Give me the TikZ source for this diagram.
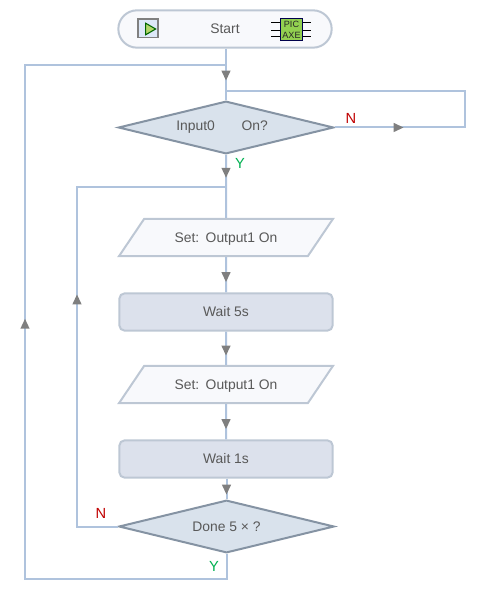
\documentclass[tikz,border=0pt]{standalone}
\usepackage{fontspec}
\setmainfont{Liberation Sans}
\usepackage{xcolor}
\usetikzlibrary{shapes.geometric, arrows.meta, decorations.markings}

\definecolor{linkblue}{HTML}{AFC3DD}
\definecolor{tipgray}{HTML}{7F7F7F}
\definecolor{textgray}{HTML}{595959}
\definecolor{darkedge}{HTML}{8593A3}
\definecolor{softedge}{HTML}{BDC7D4}
\definecolor{darkfill}{HTML}{D9E2EC}
\definecolor{softfill}{HTML}{F8F9FC}
\definecolor{waitfill}{HTML}{DCE1EC}
\definecolor{chipgreen}{HTML}{92D050}
\definecolor{playfill}{HTML}{DDE8F8}
\definecolor{playgreen}{HTML}{B4D66A}
\definecolor{nored}{HTML}{C00000}
\definecolor{yesgreen}{HTML}{00B050}

\tikzset{
  box/.style={draw=softedge, line width=1.5pt, text=textgray, font=\fontsize{10.4}{12}\selectfont, inner sep=0pt},
  startbox/.style={box, rectangle, rounded corners=14pt, fill=softfill, minimum width=160pt, minimum height=28pt},
  decision/.style={box, diamond, aspect=4.05, draw=darkedge, fill=darkfill, minimum width=161.5pt, minimum height=39.5pt},
  outputbox/.style={box, trapezium, trapezium left angle=56, trapezium right angle=124, trapezium stretches body=true, fill=softfill, minimum width=160.5pt, text height=18pt, text depth=10pt},
  waitbox/.style={box, rectangle, rounded corners=4pt, fill=waitfill, minimum width=160pt, minimum height=28pt},
  link/.style={draw=linkblue, line width=1.5pt},
  flowtip/.style={postaction={decorate}, decoration={markings, mark=at position #1 with {\arrow[tipgray]{Triangle[width=6.5pt, length=7.5pt]}}}},
  no/.style={text=nored, font=\fontsize{11}{12}\selectfont},
  yes/.style={text=yesgreen, font=\fontsize{11}{12}\selectfont}
}

\begin{document}
\begin{tikzpicture}[x=0.75pt, y=-0.75pt]
\useasboundingbox (0,0) rectangle (477,591);

% Flow boxes
\node[startbox] (start) at (225,29) {Start};
\node[decision] (input) at (226,127.5) {Input0\hspace{20pt}On?\hspace*{6pt}};
\node[outputbox] (setA) at (226,237.5) {Set:\hspace{1pt} Output1 On};
\node[waitbox] (waitA) at (226,312) {Wait 5s};
\node[outputbox] (setB) at (226,384.5) {Set:\hspace{1pt} Output1 On};
\node[waitbox] (waitB) at (226,459) {Wait 1s};
\node[decision] (done) at (226.5,526.5) {Done 5 × ?};

% Start icons
\node[draw=gray, line width=1pt, fill=playfill, minimum width=15pt, minimum height=14pt, inner sep=0pt] (play) at (148,28.5) {};
\node[draw=green!40!black, line width=0.8pt, fill=playgreen, isosceles triangle, isosceles triangle apex angle=60, minimum height=7.5pt, inner sep=0pt] (playtip) at (149,29) {};
\foreach \y in {22,30,36} {
  \draw[black, line width=0.5pt] (271,\y) -- (311,\y);
}
\node[draw=black!70!blue, line width=0.7pt, fill=chipgreen, minimum width=17pt, minimum height=17pt, inner sep=0pt, align=center, text=black!85, font=\fontsize{6.8}{8.4}\selectfont] (chip) at (291.5,29.5) {PIC\\AXE};

% Named corners of the return loops
\coordinate (outerjoin) at (226,65);
\coordinate (outertop) at (25,65);
\coordinate (outerlow) at (25,579);
\coordinate (innerjoin) at (226,187);
\coordinate (innertop) at (77,187);
\coordinate (innerlow) at (77,526.5);
\coordinate (waitjoin) at (226,91);
\coordinate (waittop) at (465,91);
\coordinate (waitlow) at (465,127.5);

% Main line
\draw[link, flowtip=24pt] (start.south -| input.north) -- (input.north);
\draw[link, flowtip=17.25pt] (input.south) -- (setA.north);
\draw[link, flowtip=18.75pt] (setA.south) -- (waitA.north);
\draw[link, flowtip=18pt] (waitA.south) -- (setB.north);
\draw[link, flowtip=18.75pt] (setB.south) -- (waitB.north);
\draw[link, flowtip=12pt] (waitB.south -| done.north) -- (done.north);

% Return loops
\draw[link, flowtip=51.75pt] (input.east) -- (waitlow) -- (waittop) -- (waitjoin);
\draw[link, flowtip=204.75pt] (done.west) -- (innerlow) -- (innertop) -- (innerjoin);
\draw[link, flowtip=365.25pt] (done.south) |- (outerlow) -- (outertop) -- (outerjoin);

% Branch labels
\node[no] (inputno) at (351,118) {N};
\node[yes] (inputyes) at (240,163) {Y};
\node[no] (doneno) at (101,513) {N};
\node[yes] (doneyes) at (214,566) {Y};

\end{tikzpicture}
\end{document}
